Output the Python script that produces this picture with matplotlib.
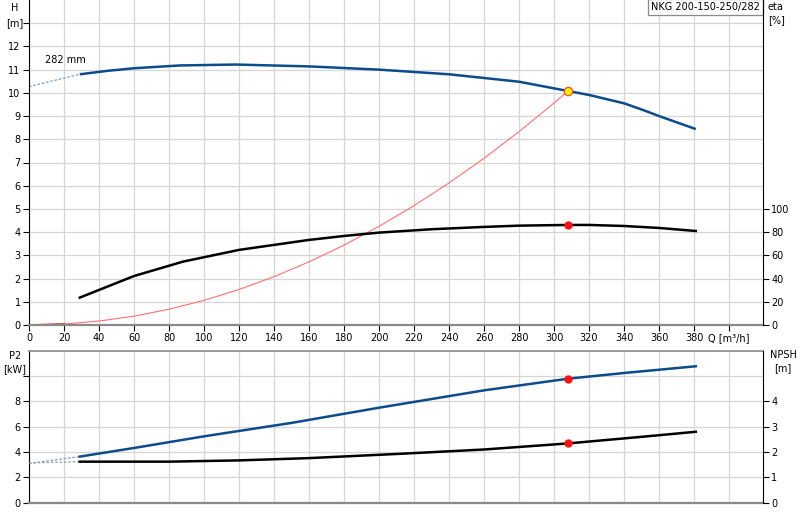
import matplotlib as mpl
import matplotlib.pyplot as plt

mpl.rcParams['font.family'] = 'DejaVu Sans'
mpl.rcParams['font.size'] = 7

# Data
H_Q = [29, 45, 60, 86, 118, 160, 200, 240, 280, 308, 320, 340, 352, 360, 381]
H_VAL = [10.8, 10.95, 11.06, 11.18, 11.22, 11.14, 11.0, 10.8, 10.48, 10.08, 9.91, 9.55, 9.23, 9.0, 8.44]
H_EXT_Q = [0, 29]
H_EXT_VAL = [10.27, 10.8]

ETA_Q = [29, 60, 88, 120, 140, 160, 180, 200, 230, 260, 280, 308, 320, 340, 360, 381]
ETA_VAL = [23.6, 42.2, 54.6, 64.7, 69.0, 73.3, 76.7, 79.6, 82.5, 84.5, 85.6, 86.2, 86.2, 85.3, 83.6, 81.0]

SYS_Q = [0, 20, 40, 60, 80, 100, 120, 140, 160, 180, 200, 220, 240, 260, 280, 300, 308]
SYS_H = [0, 0.04, 0.17, 0.38, 0.68, 1.06, 1.53, 2.08, 2.72, 3.44, 4.25, 5.14, 6.12, 7.18, 8.33, 9.56, 10.08]

P2_Q = [29, 60, 100, 150, 200, 260, 308, 340, 381]
P2_VAL = [3.64, 4.32, 5.24, 6.3, 7.5, 8.87, 9.79, 10.24, 10.77]
P2_EXT_Q = [0, 29]
P2_EXT_VAL = [3.1, 3.64]

NPSH_Q = [29, 80, 120, 160, 212, 260, 308, 350, 381]
NPSH_VAL = [1.62, 1.62, 1.67, 1.76, 1.93, 2.10, 2.34, 2.60, 2.80]
NPSH_EXT_Q = [0, 29]
NPSH_EXT_VAL = [1.57, 1.62]

DUTY_Q = 308
DUTY_H = 10.08
DUTY_ETA = 86.2
DUTY_P2 = 9.79
DUTY_NPSH = 2.34

Q_TICKS = list(range(0, 401, 20))
Q_LABELS = [str(q) for q in range(0, 400, 20)] + ['Q [m³/h]']

BLUE = '#0b4c8c'
GRID = '#d6d6d6'

fig = plt.figure(figsize=(8, 5.2), dpi=100)
ax = fig.add_axes([29 / 800, 1 - 325 / 520, 734 / 800, 325 / 520])
ax_eta = ax.twinx()
bx = fig.add_axes([29 / 800, 1 - 502.7 / 520, 734 / 800, 152 / 520])
bx_npsh = bx.twinx()

for a in (ax, bx):
    a.set_xlim(0, 419.4)
    a.set_xticks(Q_TICKS)
    a.grid(True, color=GRID, linewidth=0.9)
    a.set_axisbelow(True)
    a.spines['left'].set_color('black')
    a.spines['right'].set_visible(False)
    a.spines['bottom'].set_color('#8a8a8a')
    a.spines['bottom'].set_linewidth(1.6)
    a.tick_params(length=4, width=0.8, pad=2)

for a in (ax_eta, bx_npsh):
    for s in ('left', 'top', 'bottom'):
        a.spines[s].set_visible(False)
    a.spines['right'].set_color('black')
    a.tick_params(length=4, width=0.8, pad=2)

# Top chart: H, eta, system curve
ax.set_ylim(0, 14)
ax.set_yticks(range(0, 14))
ax.set_yticklabels([str(i) for i in range(13)] + [''])
ax.set_xticklabels(Q_LABELS)
ax.spines['top'].set_visible(False)

ax.plot(H_EXT_Q, H_EXT_VAL, color='#7f98b8', linewidth=0.9, linestyle=(0, (2, 1.5)))
ax.plot(H_Q, H_VAL, color=BLUE, linewidth=1.8, solid_capstyle='butt')
ax.plot(SYS_Q, SYS_H, color='#ff7070', linewidth=0.8)
ax.plot(SYS_Q[:2], SYS_H[:2], color='#dd1010', linewidth=1.2)
ax.plot([DUTY_Q], [DUTY_H], marker='o', markersize=6, markerfacecolor='#ffee00',
        markeredgecolor='#ff5010', markeredgewidth=0.9, zorder=5)
ax.text(20.6, 11.18, '282 mm', ha='center', va='bottom', fontsize=7)
ax.text(417.5, 13.93, 'NKG 200-150-250/282', ha='right', va='top', fontsize=7,
        bbox=dict(boxstyle='square,pad=0.3', facecolor='white', edgecolor='#8a8a8a', linewidth=0.9))

ax_eta.set_ylim(0, 280)
ax_eta.set_yticks(range(0, 101, 20))
ax_eta.plot(ETA_Q, ETA_VAL, color='black', linewidth=1.8)
ax_eta.plot([DUTY_Q], [DUTY_ETA], marker='o', markersize=5, color='#ff1010', zorder=5)

fig.text(15 / 800, 1 - 8 / 520, 'H', ha='center', va='center', fontsize=7)
fig.text(15 / 800, 1 - 23 / 520, '[m]', ha='center', va='center', fontsize=7)
fig.text(768 / 800, 1 - 7 / 520, 'eta', ha='left', va='center', fontsize=7)
fig.text(768 / 800, 1 - 20 / 520, '[%]', ha='left', va='center', fontsize=7)

# Bottom chart: P2 and NPSH
bx.set_ylim(0, 12)
bx.set_yticks(range(0, 11, 2))
bx.set_yticklabels(['0', '2', '4', '6', '8', ''])
bx.set_xticklabels([])
bx.tick_params(axis='x', length=0)
bx.spines['top'].set_color('#8a8a8a')
bx.spines['top'].set_linewidth(1.2)

bx.plot(P2_EXT_Q, P2_EXT_VAL, color='#7f98b8', linewidth=0.9, linestyle=(0, (2, 1.5)))
bx.plot(P2_Q, P2_VAL, color=BLUE, linewidth=1.8)
bx.plot([DUTY_Q], [DUTY_P2], marker='o', markersize=5, color='#ff1010', zorder=5)

bx_npsh.set_ylim(0, 6)
bx_npsh.set_yticks(range(0, 5))
bx_npsh.plot(NPSH_EXT_Q, NPSH_EXT_VAL, color='#9a9aa8', linewidth=0.9, linestyle=(0, (2, 1.5)))
bx_npsh.plot(NPSH_Q, NPSH_VAL, color='black', linewidth=1.8)
bx_npsh.plot([DUTY_Q], [DUTY_NPSH], marker='o', markersize=5, color='#ff1010', zorder=5)

fig.text(15 / 800, 1 - 356 / 520, 'P2', ha='center', va='center', fontsize=7)
fig.text(15 / 800, 1 - 369 / 520, '[kW]', ha='center', va='center', fontsize=7)
fig.text(783 / 800, 1 - 355 / 520, 'NPSH', ha='center', va='center', fontsize=7)
fig.text(783 / 800, 1 - 368 / 520, '[m]', ha='center', va='center', fontsize=7)

fig.savefig('out.png', dpi=100)
